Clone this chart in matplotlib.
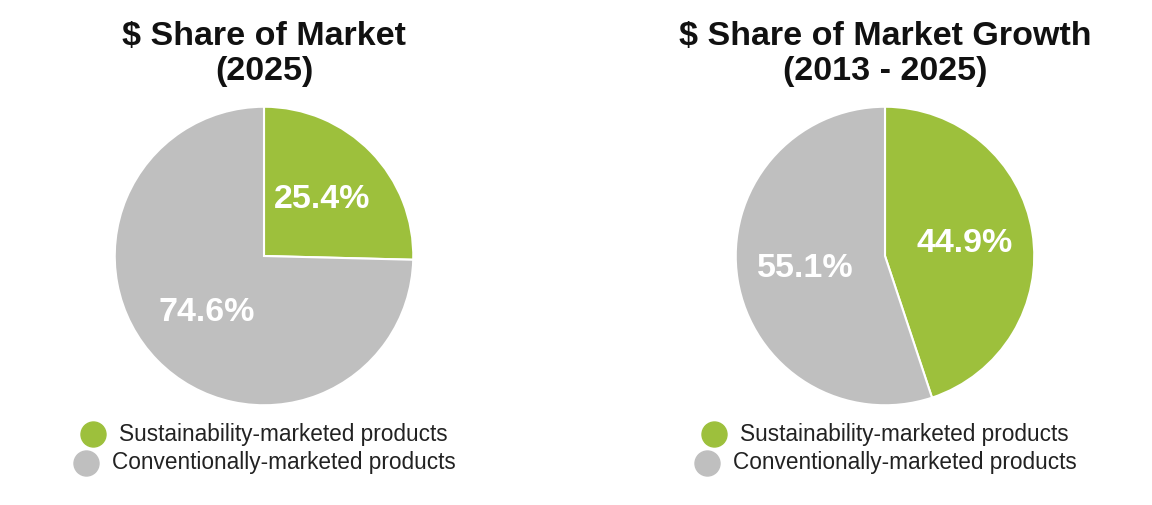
import matplotlib.pyplot as plt

plt.rcParams['font.family'] = ['Liberation Sans', 'DejaVu Sans']

categories = ['Sustainability-marketed products', 'Conventionally-marketed products']
share_2025 = [25.4, 74.6]
share_growth = [44.9, 55.1]
titles = ['$ Share of Market\n(2025)', '$ Share of Market Growth\n(2013 - 2025)']
colors = ['#9DC03C', '#BFBFBF']

fig = plt.figure(figsize=(11.52, 5.05), dpi=100)

centers = [264, 885]
for cx, vals, title in zip(centers, [share_2025, share_growth], titles):
    ax = fig.add_axes([(cx - 150) / 1152, (505 - 256 - 150) / 505, 300 / 1152, 300 / 505])
    ax.pie(vals, colors=colors, startangle=90, counterclock=False,
           autopct='%.1f%%', pctdistance=0.54,
           wedgeprops=dict(edgecolor='white', linewidth=1.5),
           textprops=dict(color='white', fontsize=24.5, fontweight='bold'))
    ax.set_xlim(-1.005, 1.005)
    ax.set_ylim(-1.005, 1.005)
    ax.set_aspect('equal')
    fig.text(cx / 1152, 1 - 54 / 505, title, ha='center', va='center',
             fontsize=24.5, fontweight='bold', linespacing=1.2, color='#111111')

    # legend rows, each centred under its pie
    for i, (lab, col) in enumerate(zip(categories, colors)):
        y = 1 - (434 + 29 * i) / 505
        t = fig.text(0, y, lab, ha='left', va='center', fontsize=16.3, color='#222222')
        fig.canvas.draw()
        w = t.get_window_extent().width
        total = w + 26 + 13
        x0 = cx - total / 2
        t.set_x((x0 + 26 + 13) / 1152)
        fig.lines.append(plt.Line2D([(x0 + 13) / 1152], [y], marker='o', markersize=18,
                                    color=col, linestyle='none', transform=fig.transFigure))

fig.savefig('out.png', dpi=100, facecolor='white')
